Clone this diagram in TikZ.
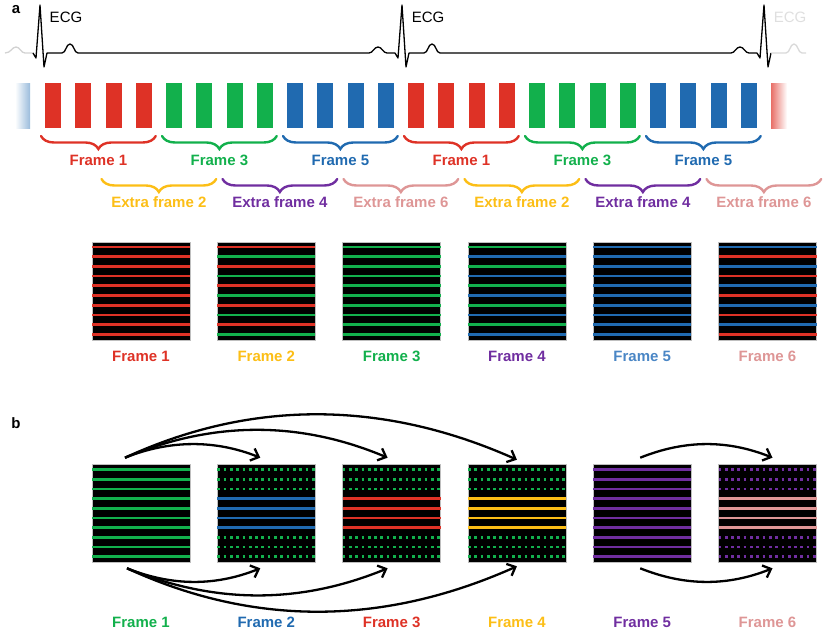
\documentclass[tikz,border=0pt]{standalone}
\usepackage{fontspec}
\setmainfont{Liberation Sans}
\usetikzlibrary{decorations.pathreplacing,arrows.meta}
\definecolor{fred}{RGB}{222,50,38}
\definecolor{fgreen}{RGB}{18,176,76}
\definecolor{fblue}{RGB}{32,106,176}
\definecolor{flblue}{RGB}{74,134,197}
\definecolor{fyellow}{RGB}{252,190,22}
\definecolor{fpurple}{RGB}{112,46,160}
\definecolor{fpink}{RGB}{222,150,150}
\begin{document}
\begin{tikzpicture}[x=1pt,y=-1pt,
  lab/.style={font=\fontsize{15}{17}\selectfont\bfseries},
  ecgtxt/.style={font=\fontsize{15}{17}\selectfont},
  ecgline/.style={line width=1.3pt,line join=round},
  brc/.style={decorate,decoration={brace,mirror,amplitude=13pt},line width=2.4pt,line cap=round},
  img/.style={fill=black,draw=gray!50,line width=0.6pt,minimum size=98pt,inner sep=0pt},
  row/.style={line width=2.7pt},
  dotrow/.style={line width=2.7pt,dash pattern=on 2.7pt off 3.6pt},
  arr/.style={-{Straight Barb[length=7pt,width=13pt]},line width=2.3pt}]
  \useasboundingbox (0,0) rectangle (823,632);
  \node[lab] (pa) at (16,10) {a};
  \node[lab] (pb) at (16,423) {b};

  \draw[ecgline,gray!35] (5,53) .. controls (11,53) and (12,47) .. (16,47)
    .. controls (20,47) and (21,53) .. (25,53) -- (33,53);
  \foreach \s in {0,362}
    \draw[ecgline,shift={(\s,0)}] (33,53) -- (36,58) -- (40,5) -- (44,67) -- (47,53) -- (62,53)
      .. controls (66,53) and (66,44) .. (70,44) .. controls (74,44) and (74,53) .. (78,53)
      -- (369,53) .. controls (373,53) and (374,47) .. (378,47)
      .. controls (382,47) and (383,53) .. (387,53) -- (395,53);
  \draw[ecgline,shift={(724,0)}] (33,53) -- (36,58) -- (40,5) -- (44,67) -- (47,53);
  \draw[ecgline,gray!30] (771,53) -- (786,53) .. controls (790,53) and (790,44) .. (794,44)
    .. controls (798,44) and (798,53) .. (802,53) -- (806,53);
  \node[ecgtxt] (ecg1) at (66,17) {ECG};
  \node[ecgtxt] (ecg2) at (428,17) {ECG};
  \node[ecgtxt,text=gray!25] (ecg3) at (790,17) {ECG};

  \shade[left color=white,right color=fblue!45] (15,83) rectangle (30,128);
  \foreach \col [count=\j from 0] in {fred,fgreen,fblue,fred,fgreen,fblue}
    \foreach \k in {0,...,3}
      \fill[\col] ({45+(4*\j+\k)*30.25},83) rectangle +(16,45);
  \shade[left color=fred!70,right color=white] (771,83) rectangle (787,128);

  \foreach \lbl/\col/\s in {Frame 1/fred/0,Frame 3/fgreen/4,Frame 5/fblue/8,
      Frame 1/fred/12,Frame 3/fgreen/16,Frame 5/fblue/20}{
    \draw[brc,\col] ({41+\s*30.25},136) -- ({65+(\s+3)*30.25},136);
    \node[lab,text=\col] (fr\s) at ({53+(\s+1.5)*30.25},160) {\lbl};
  }
  \foreach \lbl/\col/\s in {Extra frame 2/fyellow/2,Extra frame 4/fpurple/6,Extra frame 6/fpink/10,
      Extra frame 2/fyellow/14,Extra frame 4/fpurple/18,Extra frame 6/fpink/22}{
    \draw[brc,\col] ({41+\s*30.25},179) -- ({65+(\s+3)*30.25},179);
    \node[lab,text=\col] (ex\s) at ({53+(\s+1.5)*30.25},202) {\lbl};
  }

  \foreach \ca/\cb/\lbl/\col [count=\i from 0] in {fred/fred/Frame 1/fred,fred/fgreen/Frame 2/fyellow,
      fgreen/fgreen/Frame 3/fgreen,fgreen/fblue/Frame 4/fpurple,fblue/fblue/Frame 5/flblue,
      fblue/fred/Frame 6/fpink}{
    \pgfmathsetmacro\xl{92+\i*125.3}
    \node[img] (a\i) at ({\xl+49},291) {};
    \foreach \k in {0,2,...,8}
      \draw[row,\ca] (\xl,{247+9.7*\k}) -- +(98,0);
    \foreach \k in {1,3,...,9}
      \draw[row,\cb] (\xl,{247+9.7*\k}) -- +(98,0);
    \node[lab,text=\col] (ta\i) at ({\xl+49},356) {\lbl};
  }

  \foreach \co/\dt/\cm/\lbl [count=\i from 0] in {fgreen/row/fgreen/Frame 1,fgreen/dotrow/fblue/Frame 2,
      fgreen/dotrow/fred/Frame 3,fgreen/dotrow/fyellow/Frame 4,fpurple/row/fpurple/Frame 5,
      fpurple/dotrow/fpink/Frame 6}{
    \pgfmathsetmacro\xl{92+\i*125.3}
    \node[img] (b\i) at ({\xl+49},513) {};
    \foreach \k in {0,1,2,7,8,9}
      \draw[\dt,\co] (\xl,{469.5+9.7*\k}) -- +(98,0);
    \foreach \k in {3,...,6}
      \draw[row,\cm] (\xl,{469.5+9.7*\k}) -- +(98,0);
    \node[lab,text=\cm,anchor=base,inner sep=0pt] (tb\i) at ({\xl+49},627) {\lbl};
  }

  \draw[arr] ([shift={(-16,-6)}]b0.north) .. controls +(45,-18) and +(-45,-18) .. ([shift={(-6,-6)}]b1.north);
  \draw[arr] ([shift={(-16,-6)}]b0.north) .. controls +(88,-37) and +(-88,-37) .. ([shift={(-4,-6)}]b2.north);
  \draw[arr] ([shift={(-16,-6)}]b0.north) .. controls +(130,-60) and +(-130,-58) .. ([shift={(0,-4)}]b3.north);
  \draw[arr] ([shift={(-14,6)}]b0.south) .. controls +(45,18) and +(-45,18) .. ([shift={(-6,6)}]b1.south);
  \draw[arr] ([shift={(-14,6)}]b0.south) .. controls +(88,36) and +(-88,36) .. ([shift={(-4,6)}]b2.south);
  \draw[arr] ([shift={(-14,6)}]b0.south) .. controls +(130,60) and +(-130,58) .. ([shift={(0,4)}]b3.south);
  \draw[arr] ([shift={(-2,-6)}]b4.north) .. controls +(45,-18) and +(-45,-18) .. ([shift={(5,-6)}]b5.north);
  \draw[arr] ([shift={(-2,6)}]b4.south) .. controls +(45,18) and +(-45,18) .. ([shift={(5,6)}]b5.south);
\end{tikzpicture}
\end{document}
